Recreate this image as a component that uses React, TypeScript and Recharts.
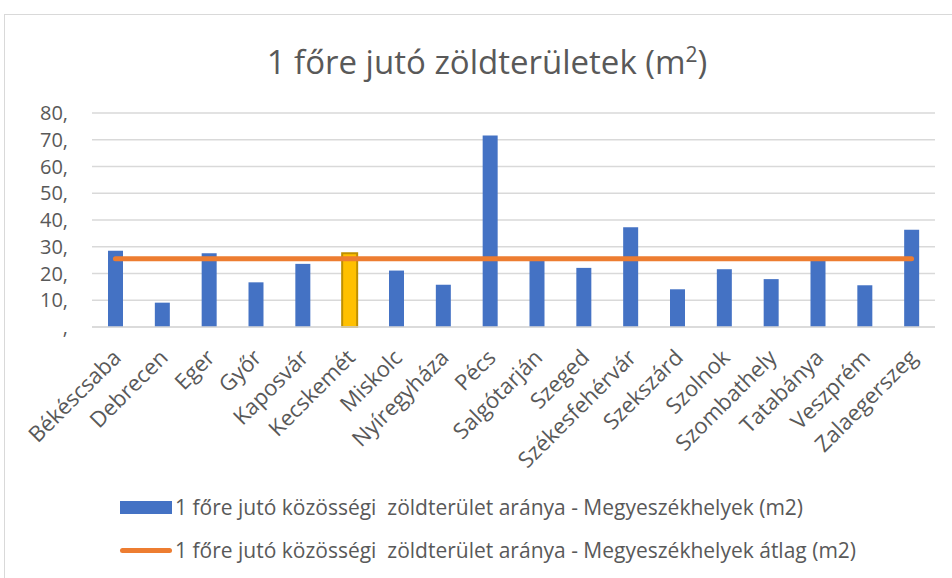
import { ComposedChart, Bar, Line, XAxis, YAxis, CartesianGrid, Cell } from 'recharts'

const cities = [
  'Békéscsaba', 'Debrecen', 'Eger', 'Győr', 'Kaposvár', 'Kecskemét', 'Miskolc', 'Nyíregyháza', 'Pécs',
  'Salgótarján', 'Szeged', 'Székesfehérvár', 'Szekszárd', 'Szolnok', 'Szombathely', 'Tatabánya', 'Veszprém', 'Zalaegerszeg',
]
const greenPerCapita = [28.5, 9.1, 27.6, 16.7, 23.6, 27.6, 21.1, 15.8, 71.6, 26.2, 22.1, 37.3, 14.1, 21.6, 17.9, 25.5, 15.6, 36.4]
const averageValue = 25.5
const yTicks = [0, 10, 20, 30, 40, 50, 60, 70, 80]
const highlighted = 'Kecskemét'

const title = '1 főre jutó zöldterületek (m'
const barLegend = '1 főre jutó közösségi  zöldterület aránya - Megyeszékhelyek (m2)'
const lineLegend = '1 főre jutó közösségi  zöldterület aránya - Megyeszékhelyek átlag (m2)'

const data = cities.map((city, i) => ({ city, value: greenPerCapita[i], avg: averageValue }))

const FONT = '"Open Sans", sans-serif'
const TEXT = '#595959'
const BLUE = '#4472C4'
const ORANGE = '#ED7D31'

function CityTick({ x, y, payload }: any) {
  return (
    <g transform={`translate(${x + 7},${y + 24})`}>
      <text transform="rotate(-45)" textAnchor="end" fill={TEXT} fontSize={22} fontFamily={FONT}>
        {payload.value}
      </text>
    </g>
  )
}

export default function App() {
  return (
    <div style={{ position: 'absolute', left: 0, top: 0, width: 952, height: 578, overflow: 'hidden', background: '#fff', fontFamily: FONT }}>
      <div style={{ position: 'absolute', left: 4, top: 14, width: 1000, height: 600, border: '1px solid #d9d9d9' }} />
      <svg width={952} height={100} style={{ position: 'absolute', left: 0, top: 0 }}>
        <text x={487} y={74} textAnchor="middle" fill={TEXT} fontSize={33} fontFamily={FONT}>
          {title}
          <tspan fontSize={21} dy={-12}>2</tspan>
          <tspan dy={12}>)</tspan>
        </text>
      </svg>
      <div style={{ position: 'absolute', left: 0, top: 0 }}>
        <ComposedChart width={952} height={578} data={data} margin={{ top: 113, right: 17, left: 0, bottom: 0 }}>
          <CartesianGrid vertical={false} stroke="#d9d9d9" strokeWidth={1.3} />
          <XAxis dataKey="city" interval={0} height={251} tick={<CityTick />} tickLine={false} axisLine={{ stroke: '#d9d9d9', strokeWidth: 1.3 }} />
          <YAxis
            width={92}
            domain={[0, 80]}
            ticks={yTicks}
            interval={0}
            tickFormatter={v => (v === 0 ? ',' : `${v},`)}
            axisLine={false}
            tickLine={false}
            tickMargin={18}
            tick={{ fill: TEXT, fontSize: 20, fontFamily: FONT }}
          />
          <Bar dataKey="value" fill={BLUE} barSize={15} isAnimationActive={false}>
            {data.map(d => (
              <Cell
                key={d.city}
                fill={d.city === highlighted ? '#FFC000' : BLUE}
                stroke={d.city === highlighted ? '#BF9000' : 'none'}
                strokeWidth={2}
              />
            ))}
          </Bar>
          <Line dataKey="avg" stroke={ORANGE} strokeWidth={5} strokeLinecap="round" dot={false} activeDot={false} isAnimationActive={false} />
        </ComposedChart>
      </div>
      <div style={{ position: 'absolute', left: 120, top: 494, color: TEXT, fontSize: 21, whiteSpace: 'pre', lineHeight: '26px' }}>
        <div style={{ display: 'flex', alignItems: 'center', height: 26 }}>
          <span style={{ width: 52, height: 13, background: BLUE, marginRight: 3 }} />
          <span>{barLegend}</span>
        </div>
        <div style={{ display: 'flex', alignItems: 'center', height: 26, marginTop: 17 }}>
          <span style={{ width: 52, height: 5, borderRadius: 3, background: ORANGE, marginRight: 3 }} />
          <span>{lineLegend}</span>
        </div>
      </div>
    </div>
  )
}
